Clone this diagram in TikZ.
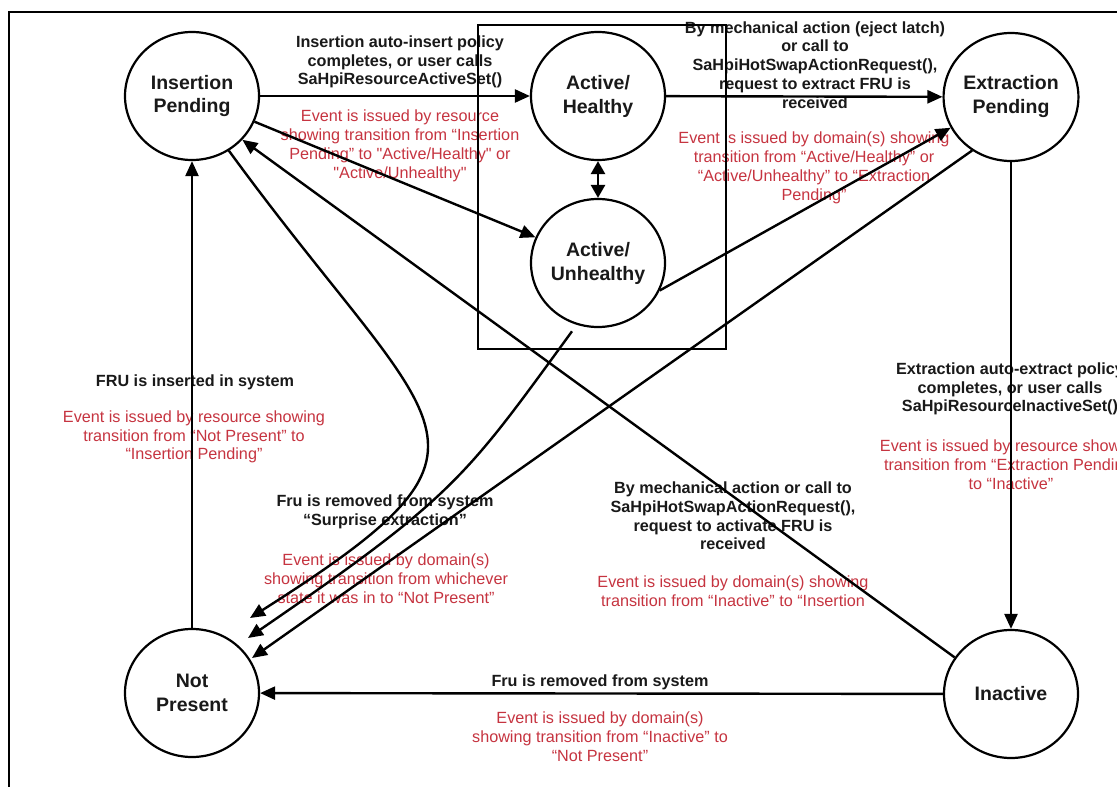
\documentclass[tikz,border=0pt]{standalone}
\usepackage{fontspec}
\setmainfont{Liberation Sans}[Ligatures=TeXOff]
\usetikzlibrary{arrows.meta,shapes.geometric}
\definecolor{evred}{RGB}{198,52,64}
\definecolor{lblk}{RGB}{25,25,25}
\tikzset{
  stnode/.style={ellipse, draw=black, line width=2.2pt, minimum width=134pt, minimum height=128pt,
    inner sep=0pt, align=center, text=lblk, font=\fontsize{19.5}{24}\selectfont\bfseries},
  lbl/.style={align=center, inner sep=0pt, text=lblk, font=\fontsize{16.2}{18.8}\selectfont\bfseries},
  evt/.style={align=center, inner sep=0pt, text=evred, font=\fontsize{16.2}{18.8}\selectfont},
  conn/.style={line width=2.4pt, -{Triangle[length=15pt,width=13pt]}},
  dconn/.style={line width=2.6pt, {Triangle[length=13pt,width=14pt]}-{Triangle[length=13pt,width=14pt]}},
  frame/.style={line width=2.2pt},
}
\begin{document}
\begin{tikzpicture}[x=1pt,y=-1pt]
\useasboundingbox (0,0) rectangle (1117,787);
\clip (0,0) rectangle (1117,787);
\fill[white] (0,0) rectangle (1117,787);

% labels
\node[lbl] (la) at (400,62) {Insertion auto-insert policy\\completes, or user calls\\SaHpiResourceActiveSet()};
\node[evt] (lb) at (400,146) {Event is issued by resource\\showing transition from “Insertion\\Pending” to "Active/Healthy" or\\"Active/Unhealthy"};
\node[lbl] (lc) at (815,65) {By mechanical action (eject latch)\\or call to\\SaHpiHotSwapActionRequest(),\\request to extract FRU is\\received};
\node[evt] (ld) at (814,168) {Event is issued by domain(s) showing\\transition from “Active/Healthy” or\\“Active/Unhealthy” to “Extraction\\Pending”};
\node[lbl] (le) at (195,382) {FRU is inserted in system};
\node[evt] (lf) at (194,437) {Event is issued by resource showing\\transition from “Not Present” to\\“Insertion Pending”};
\node[lbl] (lg) at (385,512) {Fru is removed from system\\“Surprise extraction”};
\node[evt] (lh) at (386,579) {Event is issued by domain(s)\\showing transition from whichever\\state it was in to “Not Present”};
\node[lbl] (li) at (733,516) {By mechanical action or call to\\SaHpiHotSwapActionRequest(),\\request to activate FRU is\\received};
\node[evt] (lj) at (733,591) {Event is issued by domain(s) showing\\transition from “Inactive” to “Insertion};
\node[lbl] (lk) at (1010,389) {Extraction auto-extract policy\\completes, or user calls\\SaHpiResourceInactiveSet()};
\node[evt] (ll) at (1011,465) {Event is issued by resource showing\\transition from “Extraction Pending”\\to “Inactive”};
\node[lbl] (lm) at (600,682) {Fru is removed from system};
\node[evt] (ln) at (600,737) {Event is issued by domain(s)\\showing transition from “Inactive” to\\“Not Present”};

% frame and active box
\draw[frame] (9,800) -- (9,12) -- (1130,12);
\draw[frame] (478,25) rectangle (726,349);

% states
\node[stnode] (ip) at (192,96) {Insertion\\Pending};
\node[stnode] (ah) at (598,96) {Active/\\Healthy};
\node[stnode] (ep) at (1011,97) {Extraction\\Pending};
\node[stnode] (au) at (598,263) {Active/\\Unhealthy};
\node[stnode] (np) at (192,693) {Not\\Present};
\node[stnode] (in) at (1011,694) {Inactive};

\coordinate (t1) at (250,618);
\coordinate (t2) at (248,638);
\coordinate (t3) at (252,658);

% connectors
\draw[conn] (ip) -- (ah);
\draw[conn] (ip) -- (au);
\draw[dconn] (ah) -- (au);
\draw[conn] (ah) -- (ep);
\draw[conn] (au.-24) -- (ep.207);
\draw[conn] (ep) -- (in);
\draw[conn] (in) -- (np);
\draw[conn] (np) -- (ip);
\draw[conn] (in.147) -- (ip.-41);
\draw[conn] (ip.-56) .. controls (440,440) and (530,440) .. (t1);
\draw[conn, shorten <=8pt] (au.251) .. controls (465,478) and (455,496) .. (t2);
\draw[conn] (ep.234) -- (t3);
\end{tikzpicture}
\end{document}
